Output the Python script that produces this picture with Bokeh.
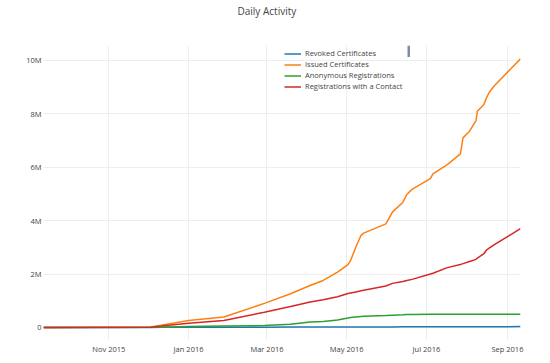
import pandas as pd
from bokeh.plotting import figure
from bokeh.models import (ColumnDataSource, Range1d, FixedTicker, DatetimeTickFormatter,
                          CustomJSTickFormatter, Legend, LegendItem, BoxAnnotation)
from bokeh.embed import file_html
from bokeh.resources import INLINE

# ---- data (values in millions) ----
dates = ["2015-09-12", "2015-12-03", "2015-12-11", "2016-01-01", "2016-01-28", "2016-02-28",
         "2016-03-19", "2016-04-03", "2016-04-13", "2016-04-24", "2016-05-02", "2016-05-04",
         "2016-05-08", "2016-05-12", "2016-05-14", "2016-05-31", "2016-06-05", "2016-06-13",
         "2016-06-16", "2016-06-20", "2016-07-04", "2016-07-06", "2016-07-17", "2016-07-27",
         "2016-07-29", "2016-08-03", "2016-08-08", "2016-08-09", "2016-08-14", "2016-08-16",
         "2016-08-18", "2016-08-22", "2016-09-11"]
revoked = [0.0, 0.001, 0.002, 0.004, 0.006, 0.009, 0.011, 0.013, 0.014, 0.015, 0.016, 0.016,
           0.017, 0.017, 0.018, 0.019, 0.02, 0.021, 0.021, 0.022, 0.023, 0.023, 0.024, 0.025,
           0.025, 0.026, 0.026, 0.027, 0.027, 0.028, 0.028, 0.029, 0.03]
issued = [0.0, 0.02, 0.08, 0.26, 0.39, 0.9, 1.26, 1.57, 1.76, 2.07, 2.35, 2.51,
          3.01, 3.45, 3.53, 3.88, 4.32, 4.69, 4.98, 5.17, 5.57, 5.75, 6.1, 6.5,
          7.1, 7.35, 7.75, 8.1, 8.35, 8.6, 8.8, 9.05, 10.06]
anonymous = [0.0, 0.005, 0.01, 0.03, 0.05, 0.07, 0.12, 0.2, 0.22, 0.28, 0.35, 0.37,
             0.39, 0.41, 0.42, 0.45, 0.46, 0.47, 0.48, 0.485, 0.49, 0.49, 0.49, 0.49,
             0.49, 0.49, 0.49, 0.49, 0.49, 0.49, 0.49, 0.49, 0.49]
contact = [0.0, 0.01, 0.05, 0.16, 0.26, 0.57, 0.78, 0.95, 1.04, 1.15, 1.27, 1.29,
           1.33, 1.37, 1.39, 1.55, 1.65, 1.72, 1.76, 1.80, 2.0, 2.03, 2.24, 2.36,
           2.39, 2.47, 2.55, 2.6, 2.76, 2.9, 2.97, 3.1, 3.70]
series_names = ["Revoked Certificates", "Issued Certificates",
                "Anonymous Registrations", "Registrations with a Contact"]
series_values = [revoked, issued, anonymous, contact]
series_colors = ["#1f77b4", "#ff7f0e", "#2ca02c", "#d62728"]
x_tick_dates = ["2015-11-01", "2016-01-01", "2016-03-01", "2016-05-01", "2016-07-01", "2016-09-01"]
y_ticks = [0, 2e6, 4e6, 6e6, 8e6, 10e6]

FONT = "Open Sans"
TXT = "#444444"

x = pd.to_datetime(dates)
data = {"x": x}
for i, vals in enumerate(series_values):
    data["s%d" % i] = [v * 1e6 for v in vals]
src = ColumnDataSource(data)

p = figure(width=550, height=363, x_axis_type="datetime",
           output_backend="svg", toolbar_location=None,
           x_range=Range1d(x[0], x[-1]), y_range=Range1d(-0.49e6, 10.56e6),
           min_border_left=43, min_border_right=30, min_border_top=45, min_border_bottom=23)
p.outline_line_color = None
p.background_fill_color = "white"

# title text followed by two empty lines so the visible line sits at the top of the margin
p.title.text = "Daily Activity\n\n"
p.title.text_font = FONT
p.title.text_font_size = "10px"
p.title.text_font_style = "normal"
p.title.text_color = TXT
p.title.align = "left"
p.title.offset = 194
p.title.standoff = 0

items = []
for i, name in enumerate(series_names):
    r = p.line("x", "s%d" % i, source=src, line_color=series_colors[i], line_width=1.5)
    items.append(LegendItem(label=name, renderers=[r]))

# axes
p.xaxis.ticker = FixedTicker(ticks=[pd.Timestamp(d).value / 1e6 for d in x_tick_dates])
p.xaxis.formatter = DatetimeTickFormatter(days="%b %Y", months="%b %Y", years="%b %Y")
p.yaxis.ticker = FixedTicker(ticks=y_ticks)
p.yaxis.formatter = CustomJSTickFormatter(code="return tick == 0 ? '0' : (tick/1e6) + 'M';")
for ax in (p.xaxis[0], p.yaxis[0]):
    ax.axis_line_color = None
    ax.major_tick_line_color = None
    ax.minor_tick_line_color = None
    ax.major_tick_out = 0
    ax.major_tick_in = 0
    ax.minor_tick_out = 0
    ax.minor_tick_in = 0
    ax.major_label_text_font = FONT
    ax.major_label_text_font_size = "7.5px"
    ax.major_label_text_color = TXT
p.yaxis.major_label_standoff = 2
p.xaxis.major_label_standoff = 3
p.xgrid.grid_line_color = "#eeeeee"
p.ygrid.grid_line_color = "#eeeeee"

legend = Legend(items=items, location=(241, 248.5), orientation="vertical")
legend.border_line_color = None
legend.background_fill_alpha = 0
legend.padding = 0
legend.margin = 0
legend.spacing = 0
legend.glyph_width = 17
legend.glyph_height = 11
legend.label_height = 11
legend.label_standoff = 4
legend.label_text_font = FONT
legend.label_text_font_size = "7.5px"
legend.label_text_color = TXT
p.add_layout(legend, "center")

scroll = BoxAnnotation(left=364, right=366.5, bottom=283.5, top=295,
                       left_units="screen", right_units="screen",
                       bottom_units="screen", top_units="screen",
                       fill_color="#808BA4", fill_alpha=1, line_color=None)
p.add_layout(scroll)

open("out.html", "w").write(file_html(p, INLINE))
